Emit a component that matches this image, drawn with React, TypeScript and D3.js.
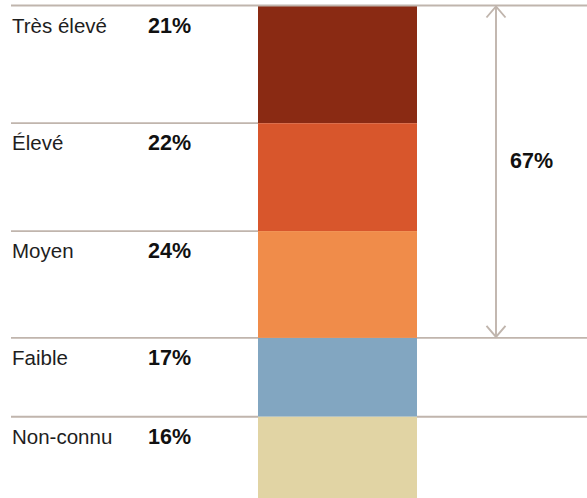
import React from "react";
import * as d3 from "d3";

const categories = ["Très élevé", "Élevé", "Moyen", "Faible", "Non-connu"];
const percentages = [21, 22, 24, 17, 16];
// bar segment shares as drawn in the picture
const segmentShares = [23.9, 21.9, 21.7, 16.0, 16.5];
const colors = ["#8a2a13", "#d8562c", "#f08c4a", "#82a6c1", "#e1d4a4"];
const bracketCount = 3; // first three categories grouped

const W = 587;
const H = 498;

export default function App() {
  const y = d3.scaleLinear().domain([0, 100]).range([5.5, 498]);
  const x = d3.scaleLinear().domain([0, 1]).range([258, 417]);
  const cum = d3.cumsum(segmentShares);
  const starts = segmentShares.map((_, i) => (i === 0 ? 0 : cum[i - 1]));
  const groupTotal = d3.sum(percentages.slice(0, bracketCount));
  const lineColor = "#c0b5ad";
  const arrowX = 496;
  const top = y(0);
  const bot = y(cum[bracketCount - 1]);
  const font = "'Liberation Sans', Arial, Helvetica, sans-serif";

  return (
    <svg
      width={W}
      height={H}
      style={{ position: "absolute", left: 0, top: 0, background: "#fff" }}
      fontFamily={font}
    >
      {categories.map((c, i) => (
        <rect
          key={"r" + c}
          x={x(0)}
          y={y(starts[i])}
          width={x(1) - x(0)}
          height={y(cum[i]) - y(starts[i])}
          fill={colors[i]}
        />
      ))}
      {categories.map((c, i) => {
        const yy = y(starts[i]);
        const fullRight = i === 0 || i >= bracketCount;
        return (
          <g key={"l" + c}>
            <line x1={11} x2={x(0)} y1={yy} y2={yy} stroke={lineColor} strokeWidth={1.8} />
            {fullRight && (
              <line x1={x(1)} x2={W} y1={yy} y2={yy} stroke={lineColor} strokeWidth={1.8} />
            )}
            {i === 0 && (
              <line x1={x(0)} x2={x(1)} y1={yy} y2={yy} stroke={lineColor} strokeWidth={1.8} />
            )}
            <text x={12} y={yy + 27} fontSize={20.5} fill="#1e1e1e">
              {c}
            </text>
            <text x={148} y={yy + 27} fontSize={21.5} fontWeight="bold" fill="#111">
              {percentages[i] + "%"}
            </text>
          </g>
        );
      })}
      <g stroke={lineColor} strokeWidth={1.9} fill="none">
        <line x1={arrowX} x2={arrowX} y1={top + 0.5} y2={bot - 1} />
        <polyline points={`${arrowX - 9.5},${top + 12} ${arrowX},${top + 1} ${arrowX + 9.5},${top + 12}`} />
        <polyline points={`${arrowX - 9.5},${bot - 12} ${arrowX},${bot - 1} ${arrowX + 9.5},${bot - 12}`} />
      </g>
      <text x={510} y={(top + bot) / 2 - 4} fontSize={21.5} fontWeight="bold" fill="#111">
        {groupTotal + "%"}
      </text>
    </svg>
  );
}
